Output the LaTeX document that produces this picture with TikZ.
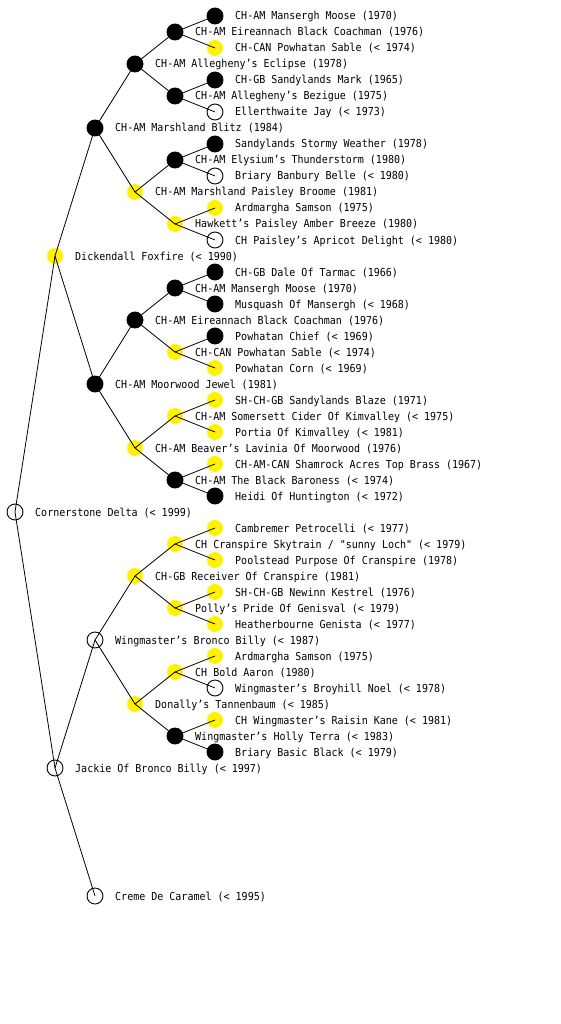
\documentclass[tikz,border=0pt]{standalone}
\usepackage{fontspec}
\newfontfamily\pedfont{DejaVu Sans Mono}[FakeStretch=0.91]
\begin{document}
\begin{tikzpicture}[x=1pt,y=-1pt,
  dot/.style={circle,inner sep=0pt,minimum size=16pt,line width=0.9pt},
  blk/.style={dot,fill=black,draw=black},
  ylw/.style={dot,fill=yellow},
  wht/.style={dot,fill=white,draw=black},
  lbl/.style={anchor=base west,inner sep=0pt,font=\pedfont\fontsize{11}{13}\selectfont},
  edge/.style={line width=0.8pt,black}]
\useasboundingbox[fill=white] (0,0) rectangle (560,1024);
% root and levels 1-2
\node[wht] (r) at (15,512) {};
\node[ylw] (a1) at (55,256) {};
\node[wht] (a2) at (55,768) {};
\node[blk] (b1) at (95,128) {};
\node[blk] (b2) at (95,384) {};
\node[wht] (b3) at (95,640) {};
\node[wht] (b4) at (95,896) {};
% level 3
\node[blk] (c1) at (135,64) {};
\node[ylw] (c2) at (135,192) {};
\node[blk] (c3) at (135,320) {};
\node[ylw] (c4) at (135,448) {};
\node[ylw] (c5) at (135,576) {};
\node[ylw] (c6) at (135,704) {};
% level 4
\node[blk] (d1) at (175,32) {};
\node[blk] (d2) at (175,96) {};
\node[blk] (d3) at (175,160) {};
\node[ylw] (d4) at (175,224) {};
\node[blk] (d5) at (175,288) {};
\node[ylw] (d6) at (175,352) {};
\node[ylw] (d7) at (175,416) {};
\node[blk] (d8) at (175,480) {};
\node[ylw] (d9) at (175,544) {};
\node[ylw] (d10) at (175,608) {};
\node[ylw] (d11) at (175,672) {};
\node[blk] (d12) at (175,736) {};
% level 5
\node[blk] (e1) at (215,16) {};
\node[ylw] (e2) at (215,48) {};
\node[blk] (e3) at (215,80) {};
\node[wht] (e4) at (215,112) {};
\node[blk] (e5) at (215,144) {};
\node[wht] (e6) at (215,176) {};
\node[ylw] (e7) at (215,208) {};
\node[wht] (e8) at (215,240) {};
\node[blk] (e9) at (215,272) {};
\node[blk] (e10) at (215,304) {};
\node[blk] (e11) at (215,336) {};
\node[ylw] (e12) at (215,368) {};
\node[ylw] (e13) at (215,400) {};
\node[ylw] (e14) at (215,432) {};
\node[ylw] (e15) at (215,464) {};
\node[blk] (e16) at (215,496) {};
\node[ylw] (e17) at (215,528) {};
\node[ylw] (e18) at (215,560) {};
\node[ylw] (e19) at (215,592) {};
\node[ylw] (e20) at (215,624) {};
\node[ylw] (e21) at (215,656) {};
\node[wht] (e22) at (215,688) {};
\node[ylw] (e23) at (215,720) {};
\node[blk] (e24) at (215,752) {};
% connectors
\foreach \p/\c in {r/a1,r/a2,a1/b1,a1/b2,a2/b3,a2/b4,
  b1/c1,b1/c2,b2/c3,b2/c4,b3/c5,b3/c6,
  c1/d1,c1/d2,c2/d3,c2/d4,c3/d5,c3/d6,c4/d7,c4/d8,c5/d9,c5/d10,c6/d11,c6/d12,
  d1/e1,d1/e2,d2/e3,d2/e4,d3/e5,d3/e6,d4/e7,d4/e8,d5/e9,d5/e10,d6/e11,d6/e12,
  d7/e13,d7/e14,d8/e15,d8/e16,d9/e17,d9/e18,d10/e19,d10/e20,d11/e21,d11/e22,d12/e23,d12/e24}
  \draw[edge] (\p.center) -- (\c.center);
% labels
\node[lbl] (lr) at (35,516) {Cornerstone Delta (< 1999)};
\node[lbl] (la1) at (75,260) {Dickendall Foxfire (< 1990)};
\node[lbl] (la2) at (75,772) {Jackie Of Bronco Billy (< 1997)};
\node[lbl] (lb1) at (115,132) {CH-AM Marshland Blitz (1984)};
\node[lbl] (lb2) at (115,388) {CH-AM Moorwood Jewel (1981)};
\node[lbl] (lb3) at (115,644) {Wingmaster’s Bronco Billy (< 1987)};
\node[lbl] (lb4) at (115,900) {Creme De Caramel (< 1995)};
\node[lbl] (lc1) at (155,68) {CH-AM Allegheny’s Eclipse (1978)};
\node[lbl] (lc2) at (155,196) {CH-AM Marshland Paisley Broome (1981)};
\node[lbl] (lc3) at (155,324) {CH-AM Eireannach Black Coachman (1976)};
\node[lbl] (lc4) at (155,452) {CH-AM Beaver’s Lavinia Of Moorwood (1976)};
\node[lbl] (lc5) at (155,580) {CH-GB Receiver Of Cranspire (1981)};
\node[lbl] (lc6) at (155,708) {Donally’s Tannenbaum (< 1985)};
\node[lbl] (ld1) at (195,36) {CH-AM Eireannach Black Coachman (1976)};
\node[lbl] (ld2) at (195,100) {CH-AM Allegheny’s Bezigue (1975)};
\node[lbl] (ld3) at (195,164) {CH-AM Elysium’s Thunderstorm (1980)};
\node[lbl] (ld4) at (195,228) {Hawkett’s Paisley Amber Breeze (1980)};
\node[lbl] (ld5) at (195,292) {CH-AM Mansergh Moose (1970)};
\node[lbl] (ld6) at (195,356) {CH-CAN Powhatan Sable (< 1974)};
\node[lbl] (ld7) at (195,420) {CH-AM Somersett Cider Of Kimvalley (< 1975)};
\node[lbl] (ld8) at (195,484) {CH-AM The Black Baroness (< 1974)};
\node[lbl] (ld9) at (195,548) {CH Cranspire Skytrain / "sunny Loch" (< 1979)};
\node[lbl] (ld10) at (195,612) {Polly’s Pride Of Genisval (< 1979)};
\node[lbl] (ld11) at (195,676) {CH Bold Aaron (1980)};
\node[lbl] (ld12) at (195,740) {Wingmaster’s Holly Terra (< 1983)};
\node[lbl] (le1) at (235,20) {CH-AM Mansergh Moose (1970)};
\node[lbl] (le2) at (235,52) {CH-CAN Powhatan Sable (< 1974)};
\node[lbl] (le3) at (235,84) {CH-GB Sandylands Mark (1965)};
\node[lbl] (le4) at (235,116) {Ellerthwaite Jay (< 1973)};
\node[lbl] (le5) at (235,148) {Sandylands Stormy Weather (1978)};
\node[lbl] (le6) at (235,180) {Briary Banbury Belle (< 1980)};
\node[lbl] (le7) at (235,212) {Ardmargha Samson (1975)};
\node[lbl] (le8) at (235,244) {CH Paisley’s Apricot Delight (< 1980)};
\node[lbl] (le9) at (235,276) {CH-GB Dale Of Tarmac (1966)};
\node[lbl] (le10) at (235,308) {Musquash Of Mansergh (< 1968)};
\node[lbl] (le11) at (235,340) {Powhatan Chief (< 1969)};
\node[lbl] (le12) at (235,372) {Powhatan Corn (< 1969)};
\node[lbl] (le13) at (235,404) {SH-CH-GB Sandylands Blaze (1971)};
\node[lbl] (le14) at (235,436) {Portia Of Kimvalley (< 1981)};
\node[lbl] (le15) at (235,468) {CH-AM-CAN Shamrock Acres Top Brass (1967)};
\node[lbl] (le16) at (235,500) {Heidi Of Huntington (< 1972)};
\node[lbl] (le17) at (235,532) {Cambremer Petrocelli (< 1977)};
\node[lbl] (le18) at (235,564) {Poolstead Purpose Of Cranspire (1978)};
\node[lbl] (le19) at (235,596) {SH-CH-GB Newinn Kestrel (1976)};
\node[lbl] (le20) at (235,628) {Heatherbourne Genista (< 1977)};
\node[lbl] (le21) at (235,660) {Ardmargha Samson (1975)};
\node[lbl] (le22) at (235,692) {Wingmaster’s Broyhill Noel (< 1978)};
\node[lbl] (le23) at (235,724) {CH Wingmaster’s Raisin Kane (< 1981)};
\node[lbl] (le24) at (235,756) {Briary Basic Black (< 1979)};
\end{tikzpicture}
\end{document}
